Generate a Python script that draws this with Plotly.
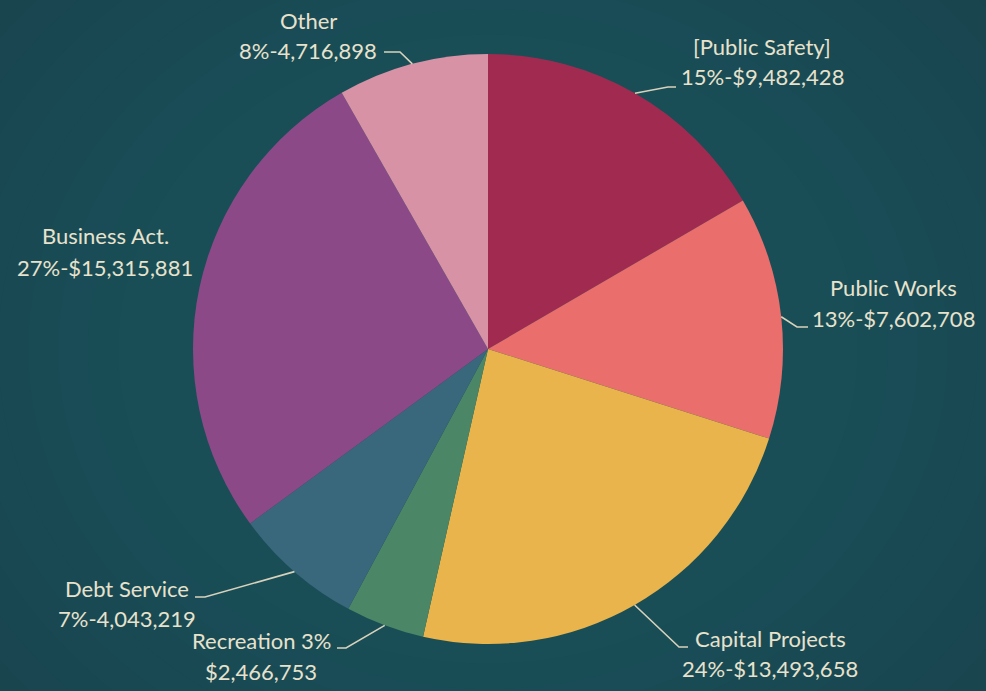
import math
import plotly.graph_objects as go

# ---- data ----
categories = ["[Public Safety]", "Public Works", "Capital Projects", "Recreation",
              "Debt Service", "Business Act.", "Other"]
amounts = [9482428, 7602708, 13493658, 2466753, 4043219, 15315881, 4716898]
label_line1 = ["[Public Safety]", "Public Works", "Capital Projects", "Recreation 3%",
               "Debt Service", "Business Act.", "Other"]
label_line2 = ["15%-$9,482,428", "13%-$7,602,708", "24%-$13,493,658", "$2,466,753",
               "7%-4,043,219", "27%-$15,315,881", "8%-4,716,898"]

# ---- style ----
W, H = 986, 691
colors = ["#a12b50", "#e96e6c", "#e8b44b", "#4b8667", "#39677c", "#8b4a87", "#d792a6"]
bg = "#19404a"
txt_color = "#e8e2cd"
font_family = "Lato, 'Open Sans', sans-serif"
fs = 22

CX, CY, R = 488, 349, 295  # pie center / radius in pixels

def px(x):
    return x / W

def py(y):
    return 1 - y / H

fig = go.Figure()
fig.add_trace(go.Pie(
    labels=categories, values=amounts, sort=False, direction="clockwise",
    rotation=0, textinfo="none", hoverinfo="label+value+percent",
    marker=dict(colors=colors, line=dict(width=0)),
    domain=dict(x=[px(CX - R), px(CX + R)], y=[py(CY + R), py(CY - R)]),
    showlegend=False,
))

# label placements (pixel centers of line1 / line2, elbow point, line end at text)
label_pos = [
    dict(x=762, y1=46, y2=77, elbow=(668, 87), end=(676, 87)),
    dict(x=893, y1=287, y2=318, elbow=(797, 327), end=(808, 327)),
    dict(x=770, y1=638, y2=668, elbow=(679, 647), end=(688, 647)),
    dict(x=261, y1=640, y2=671, elbow=(346, 648), end=(337, 648)),
    dict(x=127, y1=588, y2=618, elbow=(205, 597), end=(195, 597)),
    dict(x=105, y1=235, y2=267, elbow=None, end=None),
    dict(x=308, y1=20, y2=50, elbow=(400, 52), end=(384, 52)),
]

total = sum(amounts)
cum = 0
shapes = []
annotations = []
for i, v in enumerate(amounts):
    mid = (cum + v / 2) / total * 2 * math.pi
    cum += v
    rx = CX + R * math.sin(mid)
    ry = CY - R * math.cos(mid)
    lp = label_pos[i]
    if lp["elbow"] is not None:
        ex, ey = lp["elbow"]
        tx, ty = lp["end"]
        path = f"M {px(rx)} {py(ry)} L {px(ex)} {py(ey)} L {px(tx)} {py(ty)}"
        shapes.append(dict(type="path", path=path, xref="paper", yref="paper",
                           line=dict(color="#d8d2bc", width=1.6)))
    for text, yy in ((label_line1[i], lp["y1"]), (label_line2[i], lp["y2"])):
        annotations.append(dict(text=text, x=px(lp["x"]), y=py(yy), xref="paper", yref="paper",
                                showarrow=False, xanchor="center", yanchor="middle",
                                font=dict(family=font_family, size=fs, color=txt_color)))

# subtle vignette: lighter centre (many faint layers for smooth falloff)
vig = []
r = 760
while r > 340:
    vig.append(dict(type="circle", xref="paper", yref="paper", layer="below",
                    x0=px(CX - r), x1=px(CX + r), y0=py(CY + r * 0.85), y1=py(CY - r * 0.85),
                    fillcolor="#3f8c8c", opacity=0.022, line=dict(width=0)))
    r -= 30
shapes = vig + shapes

fig.update_layout(
    width=W, height=H, margin=dict(l=0, r=0, t=0, b=0),
    paper_bgcolor=bg, plot_bgcolor=bg,
    shapes=shapes, annotations=annotations,
)
fig.write_html("out.html", config={"displayModeBar": False},
               post_script="document.body.style.margin='0';")
